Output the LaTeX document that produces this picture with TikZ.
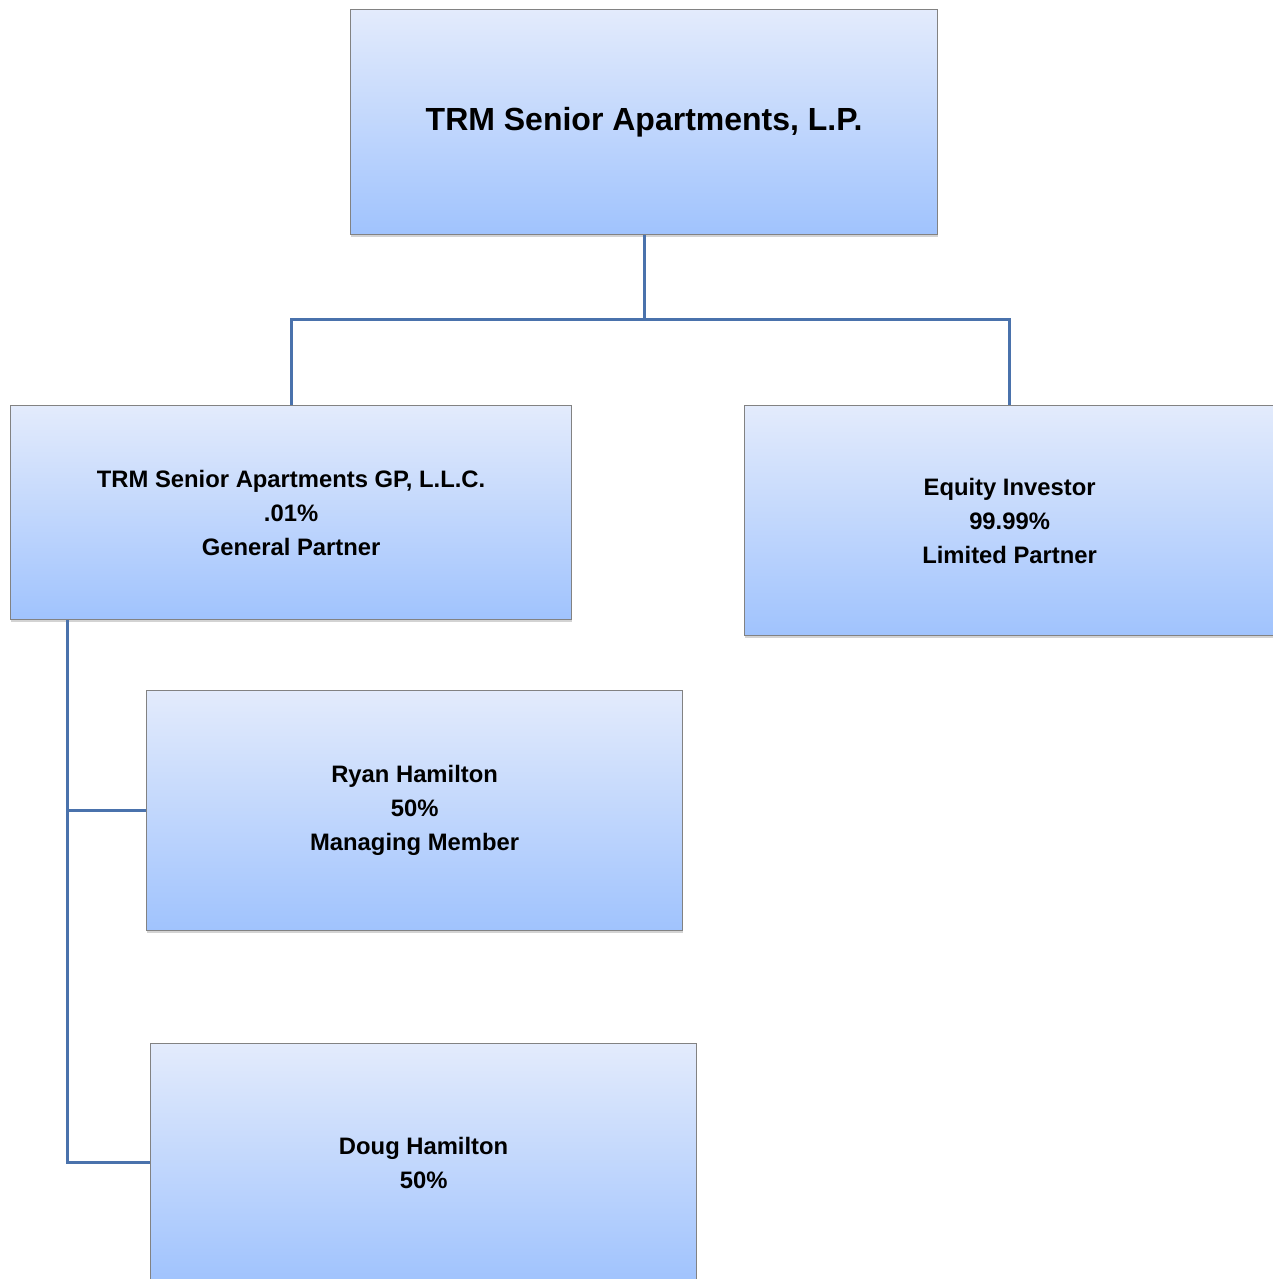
\documentclass[tikz,border=0pt]{standalone}
\usepackage{fontspec}
\setmainfont{Liberation Sans}
\usetikzlibrary{positioning,shadows}
\definecolor{linkblue}{RGB}{74,114,172}
\definecolor{boxtop}{RGB}{227,235,252}
\definecolor{boxbot}{RGB}{160,195,253}
\definecolor{boxedge}{RGB}{130,130,130}
\begin{document}
\begin{tikzpicture}[x=1pt,y=-1pt,
  box/.style={draw=boxedge,line width=1.2pt,top color=boxtop,bottom color=boxbot,
    drop shadow={shadow xshift=0pt,shadow yshift=-2pt,opacity=.35},
    anchor=north west,inner sep=0pt,align=center,
    font=\bfseries\fontsize{23.8}{34}\selectfont},
  link/.style={draw=linkblue,line width=3pt}]
\useasboundingbox (0,0) rectangle (1272,1279);
\node[box,minimum width=587pt,minimum height=225pt,font=\bfseries\fontsize{32}{38}\selectfont]
  (lp) at (350,9) {TRM Senior Apartments, L.P.};
\node[box,minimum width=561pt,minimum height=214pt]
  (gp) at (10,405) {TRM Senior Apartments GP, L.L.C.\\.01\%\\General Partner};
\node[box,minimum width=530pt,minimum height=230pt]
  (eq) at (744,405) {Equity Investor\\99.99\%\\Limited Partner};
\node[box,minimum width=536pt,minimum height=240pt]
  (ryan) at (146,690) {Ryan Hamilton\\50\%\\Managing Member};
\node[box,minimum width=546pt,minimum height=238pt]
  (doug) at (150,1043) {Doug Hamilton\\50\%};
\coordinate (split) at (lp.south |- 0,319);
\coordinate (trunk) at ([xshift=57pt]gp.south west);
\draw[link] (lp.south) -- (split);
\draw[link] (split) -| (gp.north);
\draw[link] (split) -| (eq.north);
\draw[link] (trunk) |- (doug.west);
\draw[link] (ryan.west) -- (ryan.west -| trunk);
\end{tikzpicture}
\end{document}
